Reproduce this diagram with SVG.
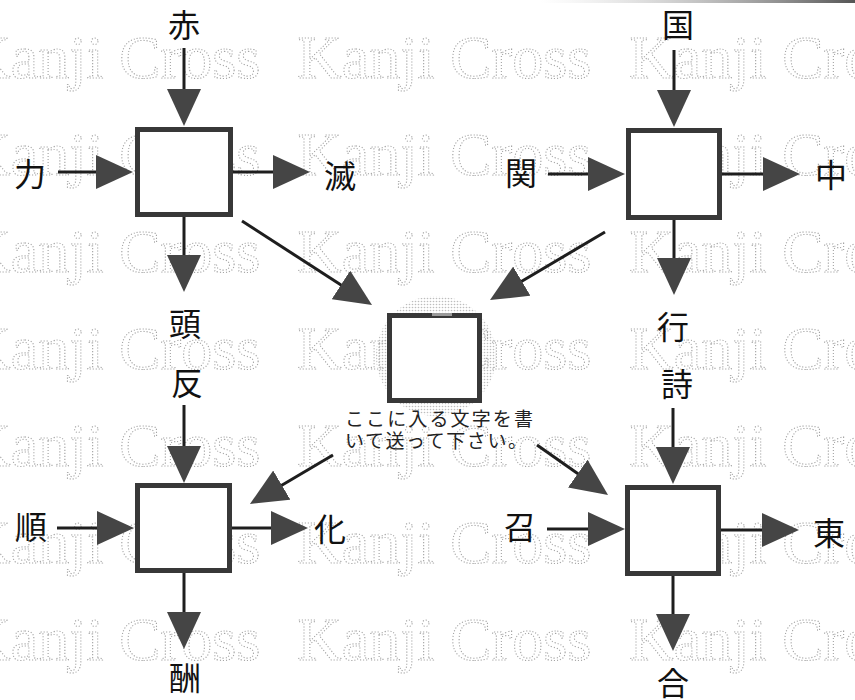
<svg xmlns="http://www.w3.org/2000/svg" width="855" height="700" viewBox="0 0 855 700">
  <style>
    .wm { font-family: "Liberation Serif", "Times New Roman", serif; font-size: 62px; fill: none; stroke: #a4a4a4; stroke-width: 1.1; stroke-dasharray: 1.1 1.9; }
    .box { fill: #ffffff; stroke: #383838; stroke-width: 5; }
    .lbl { font-family: "Liberation Serif", "Noto Sans CJK JP", serif; font-size: 32px; fill: #111; text-anchor: middle; dominant-baseline: central; }
    .note { font-family: "Liberation Serif", "Noto Sans CJK JP", serif; font-size: 19px; fill: #222; }
    .conn { stroke: #1e1e1e; stroke-width: 3; fill: none; marker-end: url(#ah); }
  </style>
  <defs>
    <marker id="ah" viewBox="0 0 37 34" refX="2" refY="17" markerWidth="37" markerHeight="34" markerUnits="userSpaceOnUse" orient="auto">
      <path d="M0,0 L37,17 L0,34 Z" fill="#454545"/>
    </marker>
    <pattern id="dots" width="3" height="3" patternUnits="userSpaceOnUse">
      <circle cx="1.5" cy="1.5" r="0.8" fill="#a0a0a0"/>
    </pattern>
    <linearGradient id="scan" x1="0" y1="0" x2="1" y2="0">
      <stop offset="0" stop-color="#bbbbbb" stop-opacity="0"/>
      <stop offset="1" stop-color="#555555"/>
    </linearGradient>
  </defs>
  <rect width="855" height="700" fill="#ffffff"/>
  <rect x="540" y="0" width="315" height="3" fill="url(#scan)"/>

  <g id="watermark">
    <text class="wm" x="-34" y="78">Kanji Cross<tspan x="297">Kanji Cross</tspan><tspan x="629">Kanji Cross</tspan></text>
    <text class="wm" x="-34" y="175">Kanji Cross<tspan x="297">Kanji Cross</tspan><tspan x="629">Kanji Cross</tspan></text>
    <text class="wm" x="-34" y="272">Kanji Cross<tspan x="297">Kanji Cross</tspan><tspan x="629">Kanji Cross</tspan></text>
    <text class="wm" x="-34" y="369">Kanji Cross<tspan x="297">Kanji Cross</tspan><tspan x="629">Kanji Cross</tspan></text>
    <text class="wm" x="-34" y="466">Kanji Cross<tspan x="297">Kanji Cross</tspan><tspan x="629">Kanji Cross</tspan></text>
    <text class="wm" x="-34" y="563">Kanji Cross<tspan x="297">Kanji Cross</tspan><tspan x="629">Kanji Cross</tspan></text>
    <text class="wm" x="-34" y="660">Kanji Cross<tspan x="297">Kanji Cross</tspan><tspan x="629">Kanji Cross</tspan></text>
  </g>

  <circle cx="436" cy="356" r="60" fill="url(#dots)" opacity="0.7"/>

  <g id="connectors">
    <!-- top-left -->
    <line class="conn" x1="184" y1="48" x2="184" y2="91"/>
    <line class="conn" x1="58" y1="172" x2="98" y2="172"/>
    <line class="conn" x1="233" y1="172" x2="275" y2="172"/>
    <line class="conn" x1="184" y1="217" x2="184" y2="257"/>
    <line class="conn" x1="242" y1="221" x2="342.6" y2="286"/>
    <!-- top-right -->
    <line class="conn" x1="674" y1="50" x2="674" y2="92"/>
    <line class="conn" x1="548" y1="174" x2="590" y2="174"/>
    <line class="conn" x1="722" y1="174" x2="765" y2="174"/>
    <line class="conn" x1="674" y1="220" x2="674" y2="260"/>
    <line class="conn" x1="605" y1="232" x2="520.1" y2="282.2"/>
    <!-- bottom-left -->
    <line class="conn" x1="184" y1="405" x2="184" y2="448"/>
    <line class="conn" x1="57" y1="528" x2="99" y2="528"/>
    <line class="conn" x1="232" y1="528" x2="273" y2="528"/>
    <line class="conn" x1="184" y1="573" x2="184" y2="614"/>
    <line class="conn" x1="333" y1="455" x2="280.1" y2="486.2"/>
    <!-- bottom-right -->
    <line class="conn" x1="673" y1="408" x2="673" y2="449"/>
    <line class="conn" x1="547" y1="529" x2="590" y2="529"/>
    <line class="conn" x1="721" y1="530" x2="764" y2="530"/>
    <line class="conn" x1="673" y1="576" x2="673" y2="616"/>
    <line class="conn" x1="537" y1="445" x2="579.4" y2="474.8"/>
  </g>

  <g id="node-top-left">
    <rect class="box" x="137.5" y="129.5" width="93" height="85"/>
  </g>
  <g id="node-top-right">
    <rect class="box" x="628.5" y="130.5" width="91" height="87"/>
  </g>
  <g id="node-bottom-left">
    <rect class="box" x="137.5" y="485.5" width="92" height="85"/>
  </g>
  <g id="node-bottom-right">
    <rect class="box" x="627.5" y="487.5" width="91" height="86"/>
  </g>
  <g id="node-center">
    <rect class="box" x="389.5" y="315.5" width="90" height="85"/>
    <line x1="432" y1="314.5" x2="452" y2="314.5" stroke="#9a9a9a" stroke-width="3"/>
    <text class="note" x="345" y="426" textLength="188" lengthAdjust="spacing">ここに入る文字を書</text>
    <text class="note" x="345" y="448" textLength="182" lengthAdjust="spacing">いて送って下さい。</text>
  </g>

  <g id="labels">
    <text class="lbl" x="184" y="26">赤</text>
    <text class="lbl" x="30" y="175">力</text>
    <text class="lbl" x="340" y="177">滅</text>
    <text class="lbl" x="185" y="325">頭</text>
    <text class="lbl" x="187" y="384">反</text>
    <text class="lbl" x="31" y="528">順</text>
    <text class="lbl" x="330" y="530">化</text>
    <text class="lbl" x="185" y="679">酬</text>
    <text class="lbl" x="678" y="26">国</text>
    <text class="lbl" x="521" y="174">関</text>
    <text class="lbl" x="831" y="176">中</text>
    <text class="lbl" x="673" y="328">行</text>
    <text class="lbl" x="677" y="385">詩</text>
    <text class="lbl" x="520" y="528">召</text>
    <text class="lbl" x="829" y="534">東</text>
    <text class="lbl" x="673" y="684">合</text>
  </g>
</svg>
